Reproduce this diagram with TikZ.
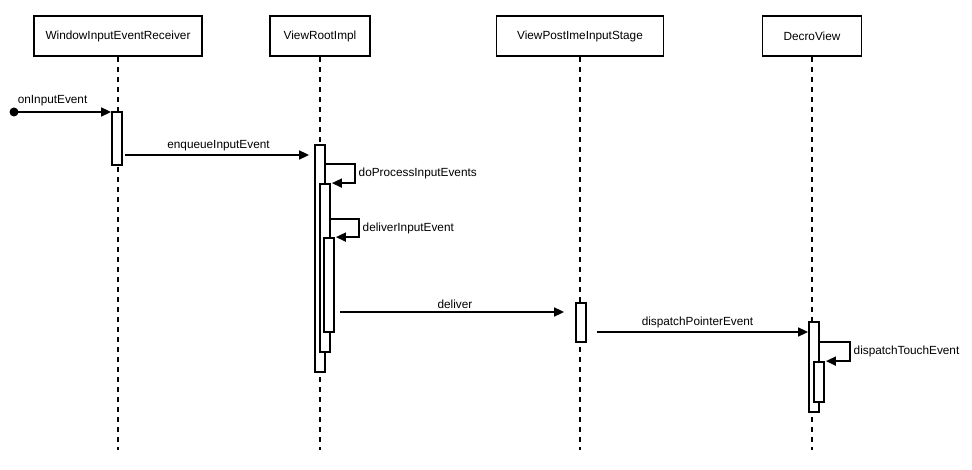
\documentclass[tikz,border=0pt]{standalone}
\usepackage{fontspec}
\setmainfont{Liberation Sans}
\usepackage{tikz}
\usetikzlibrary{arrows.meta}

\begin{document}
\begin{tikzpicture}[
  x=1pt, y=-1pt,
  font=\fontsize{11.8}{13}\selectfont,
  obj/.style={draw, line width=1.8pt, minimum height=40pt, inner sep=0pt},
  act/.style={draw, line width=1.8pt, fill=white, minimum width=10pt, inner sep=0pt},
  life/.style={line width=1.8pt, dash pattern=on 5pt off 5pt},
  msg/.style={-{Triangle[length=10pt,width=9pt]}, line width=1.6pt},
  lab/.style={inner sep=3pt},
]
\useasboundingbox (0,0) rectangle (972,470);
\node[obj, minimum width=168pt] (wier) at (118,36) {WindowInputEventReceiver};
\node[obj, minimum width=100pt] (vri)  at (320,36) {ViewRootImpl};
\node[obj, minimum width=167pt] (vpis) at (580,36) {ViewPostImeInputStage};
\node[obj, minimum width=99pt]  (dv)   at (812,36) {DecroView};
\coordinate (bottom) at (0,450);
\foreach \o in {wier,vri,vpis,dv}
  \draw[life] (\o.south) -- (\o.south |- bottom);

\node[act, minimum height=53pt]  (w1) at (117,138.5) {};
\node[act, minimum height=227pt] (r1) at (320,258.5) {};
\node[act, minimum height=168pt] (r2) at (325,268)   {};
\node[act, minimum height=94pt]  (r3) at (329,285)   {};
\node[act, minimum height=39pt]  (p1) at (581,322.5) {};
\node[act, minimum height=90pt]  (d1) at (814,367)   {};
\node[act, minimum height=40pt]  (d2) at (819,382)   {};

\node[circle, fill, inner sep=0pt, minimum size=9pt] (src) at (14,112) {};
\coordinate (m2) at (0,155);
\coordinate (s1) at (0,164);
\coordinate (s2) at (0,219);
\coordinate (m4) at (0,312);
\coordinate (m5) at (0,332);
\coordinate (s3) at (0,342);

\draw[msg] (src.center) -- node[lab, pos=0, above right, yshift=2pt]{onInputEvent} (src -| w1.west);
\draw[msg, shorten <=2pt, shorten >=5pt] (w1.east |- m2) -- node[lab, above]{enqueueInputEvent} (r1.west |- m2);
\draw[msg] (r1.east |- s1) -- ++(29,0) |- node[lab, right, pos=0.25]{doProcessInputEvents} ([xshift=1pt]r2.north east);
\draw[msg] (r2.east |- s2) -- ++(28,0) |- node[lab, right, pos=0.25]{deliverInputEvent} ([xshift=1pt]r3.north east);
\draw[msg, shorten <=5pt, shorten >=11pt] (r3.east |- m4) -- node[lab, above]{deliver} (p1.west |- m4);
\draw[msg, shorten <=10pt] (p1.east |- m5) -- node[lab, above]{dispatchPointerEvent} (d1.west |- m5);
\draw[msg] (d1.east |- s3) -- ++(30,0) |- node[lab, right, pos=0.25]{dispatchTouchEvent} ([xshift=1pt]d2.north east);
\end{tikzpicture}
\end{document}
